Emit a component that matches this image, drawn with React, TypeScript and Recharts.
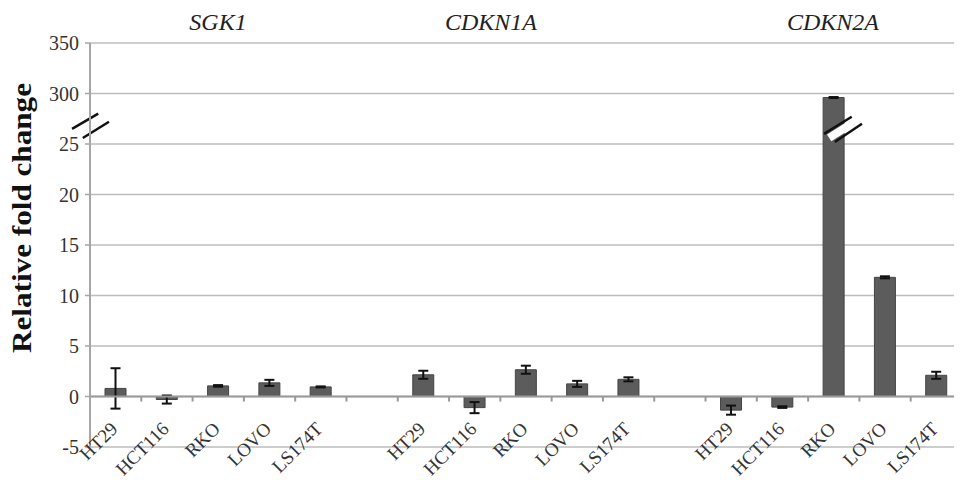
import React from 'react';
import { BarChart, Bar, XAxis, YAxis, CartesianGrid, ErrorBar, ReferenceLine } from 'recharts';

const genes = ['SGK1', 'CDKN1A', 'CDKN2A'];
const cellLines = ['HT29', 'HCT116', 'RKO', 'LOVO', 'LS174T'];

const sgk1Values = [0.8, -0.3, 1.05, 1.35, 0.95];
const sgk1Errors = [2.0, 0.4, 0.08, 0.3, 0.05];
const cdkn1aValues = [2.15, -1.1, 2.65, 1.25, 1.7];
const cdkn1aErrors = [0.4, 0.55, 0.4, 0.3, 0.2];
const cdkn2aValues = [-1.35, -1.05, 296, 11.8, 2.1];
const cdkn2aErrors = [0.45, 0.08, 0.5, 0.1, 0.35];

const yTicks = [-5, 0, 5, 10, 15, 20, 25, 300, 350];

// broken axis: 25 -> 300 takes one grid band, above 300 is 10x compressed
const toDisplay = (v: number) => (v > 25 ? 30 + (v - 300) / 10 : v);
const errDisplay = (v: number, e: number) => (v > 25 ? e / 10 : e);
const fromDisplay = (t: number) => (t > 25 ? 300 + (t - 30) * 10 : t);

const groups = [
  { gene: genes[0], values: sgk1Values, errors: sgk1Errors },
  { gene: genes[1], values: cdkn1aValues, errors: cdkn1aErrors },
  { gene: genes[2], values: cdkn2aValues, errors: cdkn2aErrors },
];

const rows: { key: string; label: string; pos: number; value: number | null; err: number }[] = [];
groups.forEach((g, gi) => {
  if (gi > 0) rows.push({ key: 'gap-' + gi, label: '', pos: rows.length + 0.5, value: null, err: 0 });
  cellLines.forEach((c, i) => {
    rows.push({
      key: g.gene + '-' + c,
      label: c,
      pos: rows.length + 0.5,
      value: toDisplay(g.values[i]),
      err: errDisplay(g.values[i], g.errors[i]),
    });
  });
});

const labelOf: Record<string, string> = {};
rows.forEach((r) => (labelOf[r.key] = r.label));

const titlePos = [210, 483, 825];

const serif = '"Liberation Serif", "Times New Roman", serif';

const CellTick = (props: any) => {
  const { x, y, payload } = props;
  const text = labelOf[payload.value];
  if (!text) return null;
  const x0 = x + 3;
  const y0 = y - 17;
  return (
    <text
      x={x0}
      y={y0}
      textAnchor="end"
      transform={`rotate(-45, ${x0}, ${y0})`}
      fontFamily={serif}
      fontSize={19}
      fill="#333"
    >
      {text}
    </text>
  );
};

// break symbols, in slot units (x) and display units (y)
const axisBreak = [
  [-0.35, 26.5, 0.16, 28.0],
  [-0.14, 25.6, 0.37, 27.2],
];
const axisBreakGap = [-0.24, 26.05, 0.26, 27.6];
const barBreak = [
  [14.31, 26.0, 14.85, 27.7],
  [14.52, 25.2, 15.05, 27.0],
];
const barBreakGap = [14.41, 25.6, 14.95, 27.35];

const boundaries = Array.from({ length: 16 }, (_, i) => i + 1);

const App: React.FC = () => {
  const seg = (s: number[]) => [
    { x: s[0], y: s[1] },
    { x: s[2], y: s[3] },
  ];
  return (
    <div style={{ position: 'relative', width: 954, height: 472 }}>
      {genes.map((g, i) => (
        <div
          key={g}
          style={{
            position: 'absolute',
            left: titlePos[i] - 100,
            top: 2,
            width: 200,
            textAlign: 'center',
            fontFamily: serif,
            fontStyle: 'italic',
            fontSize: 24,
            lineHeight: '24px',
            color: '#222',
          }}
        >
          {g}
        </div>
      ))}
      <BarChart width={954} height={472} data={rows} margin={{ top: 35, right: 0, left: 0, bottom: 0 }}>
        <CartesianGrid vertical={false} stroke="#bdbdbd" strokeWidth={1.5} />
        <XAxis
          dataKey="key"
          interval={0}
          height={33}
          axisLine={false}
          tickLine={false}
          tickSize={0}
          tickMargin={0}
          tick={<CellTick />}
        />
        <XAxis xAxisId="num" dataKey="pos" type="number" domain={[0, 17]} allowDataOverflow hide />
        <YAxis
          width={82}
          domain={[-5, 35]}
          ticks={yTicks.map(toDisplay)}
          tickFormatter={(t: number) => String(fromDisplay(t))}
          interval={0}
          axisLine={{ stroke: '#a6a6a6', strokeWidth: 2 }}
          tickLine={{ stroke: '#a6a6a6', strokeWidth: 1.5 }}
          tickSize={5}
          tickMargin={6}
          tick={{ fontFamily: serif, fontSize: 20, fill: '#333' }}
          label={{
            value: 'Relative fold change',
            content: () => (
              <text
                x={23}
                y={210}
                transform="rotate(-90, 23, 210)"
                textAnchor="middle"
                fontFamily={serif}
                fontWeight="bold"
                fontSize={27}
                textLength={270}
                lengthAdjust="spacingAndGlyphs"
                fill="#111"
              >
                Relative fold change
              </text>
            ),
          }}
        />
        <Bar dataKey="value" barSize={21} fill="#5c5c5c" stroke="#454545" strokeWidth={1} isAnimationActive={false}>
          <ErrorBar dataKey="err" width={5} strokeWidth={2} stroke="#111" direction="y" />
        </Bar>
        <ReferenceLine y={0} stroke="#9a9a9a" strokeWidth={2} />
        {boundaries.map((b) => (
          <ReferenceLine
            key={b}
            xAxisId="num"
            segment={[
              { x: b, y: 0 },
              { x: b, y: -0.5 },
            ]}
            stroke="#9a9a9a"
            strokeWidth={2}
          />
        ))}
        <ReferenceLine xAxisId="num" segment={seg(axisBreakGap)} stroke="#fff" strokeWidth={8} ifOverflow="visible" />
        {axisBreak.map((s, i) => (
          <ReferenceLine key={'a' + i} xAxisId="num" segment={seg(s)} stroke="#111" strokeWidth={2.5} ifOverflow="visible" />
        ))}
        <ReferenceLine xAxisId="num" segment={seg(barBreakGap)} stroke="#fff" strokeWidth={8} ifOverflow="visible" />
        {barBreak.map((s, i) => (
          <ReferenceLine key={'b' + i} xAxisId="num" segment={seg(s)} stroke="#111" strokeWidth={2.5} ifOverflow="visible" />
        ))}
      </BarChart>
    </div>
  );
};

export default App;
